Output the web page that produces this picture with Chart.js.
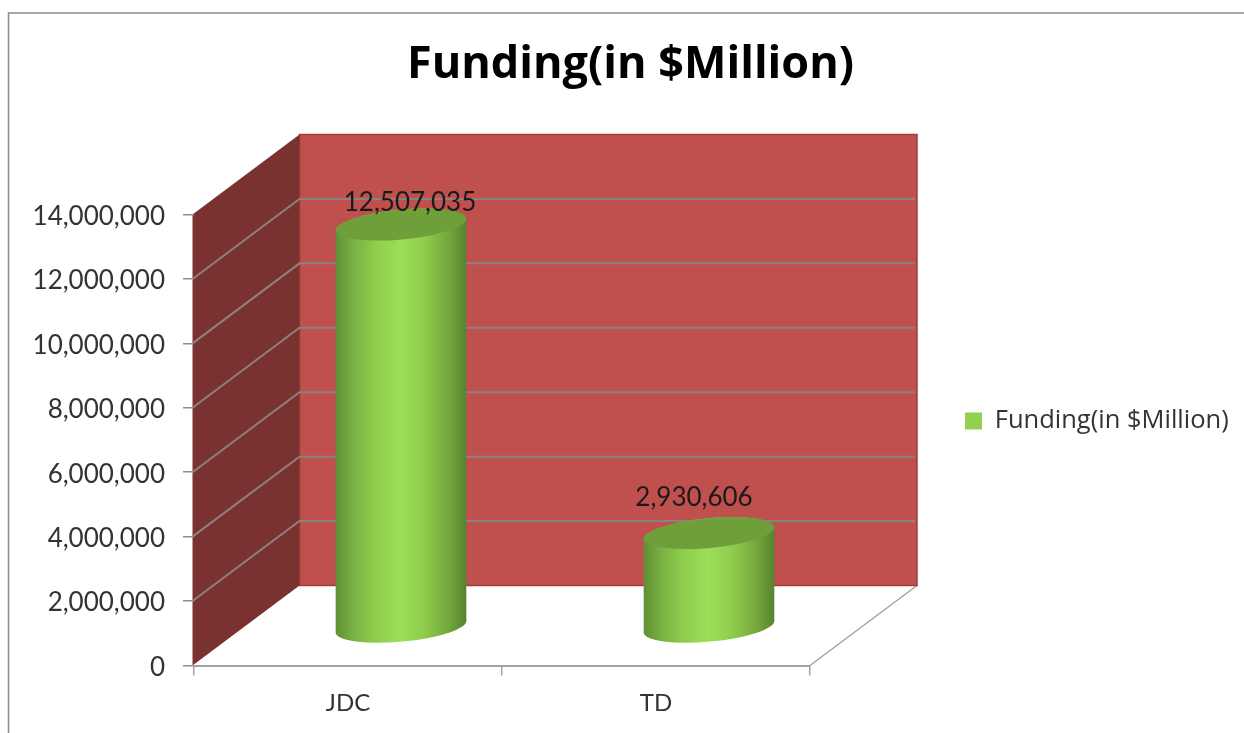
<!DOCTYPE html>
<html>
<head>
<meta charset="utf-8">
<style>
html,body{margin:0;padding:0;background:#fff;overflow:hidden}
canvas{display:block;filter:blur(0.6px)}
</style>
<script src="https://cdn.jsdelivr.net/npm/chart.js@4"></script>
</head>
<body>
<canvas id="c" width="1244" height="733"></canvas>
<script>
const categories = ['JDC', 'TD'];
const seriesName = 'Funding(in $Million)';
const fundingValues = [12507035, 2930606];
const axisMax = 14000000;
const axisStep = 2000000;

const FONT = 'Lato, Carlito, "Open Sans", sans-serif';
const WIDE = '"Open Sans", Lato, sans-serif';
const wallDepth = {dx: 107, dy: -80};
const barDepth = {dx: 53, dy: -38};
const labelNudge = [9, -15];
const labelRaise = [22, 35];
const fmt = v => Number(v).toLocaleString('en-US');

function cylinder(ctx, cx, top, base, rx) {
  const ry = 14.9, rot = -5.3 * Math.PI / 180;
  const ex = rx * Math.cos(rot);
  const g = ctx.createLinearGradient(cx - ex, 0, cx + ex, 0);
  g.addColorStop(0, '#5F9035');
  g.addColorStop(0.14, '#7AB243');
  g.addColorStop(0.32, '#90CF4E');
  g.addColorStop(0.5, '#9CDF58');
  g.addColorStop(0.68, '#8FCC4D');
  g.addColorStop(0.86, '#74A83E');
  g.addColorStop(1, '#58832E');
  ctx.beginPath();
  ctx.ellipse(cx, base, rx, ry, rot, 0, Math.PI, false);
  ctx.ellipse(cx, top, rx, ry, rot, Math.PI, 0, false);
  ctx.closePath();
  ctx.fillStyle = g;
  ctx.fill();
  ctx.beginPath();
  ctx.ellipse(cx, top, rx, ry, rot, 0, Math.PI * 2);
  ctx.fillStyle = '#6F9F3B';
  ctx.fill();
}

const frameAndWalls = {
  id: 'frameAndWalls',
  beforeLayout(chart) {
    const lg = chart.legend;
    if (lg && !lg._patched) {
      const fit = lg.fit;
      lg.fit = function () { fit.call(this); this.width = 434; };
      lg._patched = true;
    }
  },
  afterLayout(chart) {
    const lg = chart.legend;
    lg.left = 955;
    lg.right = 1244;
    lg.top = 321;
    lg.bottom = 521;
    chart.titleBlock.left = 17;
  },
  beforeDraw(chart) {
    const {ctx, chartArea: a, scales} = chart;
    const {dx, dy} = wallDepth;
    const y = scales.y;
    ctx.save();
    ctx.fillStyle = '#fff';
    ctx.fillRect(0, 0, chart.width, chart.height);

    ctx.strokeStyle = '#8C8C8C';
    ctx.lineWidth = 1.5;
    ctx.beginPath();
    ctx.moveTo(8.5, 733);
    ctx.lineTo(8.5, 13);
    ctx.lineTo(1244, 13);
    ctx.stroke();

    const left = a.left - 1.5, bottom = y.getPixelForValue(0), top = y.getPixelForValue(axisMax);

    ctx.strokeStyle = '#A3A3A3';
    ctx.lineWidth = 1.5;
    ctx.beginPath();
    ctx.moveTo(a.right, bottom);
    ctx.lineTo(a.right + dx, bottom + dy);
    ctx.stroke();

    ctx.fillStyle = '#C0504D';
    ctx.fillRect(left + dx, top + dy, a.right - left, bottom - top);
    ctx.strokeStyle = '#9C3F3D';
    ctx.lineWidth = 1.5;
    ctx.strokeRect(left + dx, top + dy, a.right - left, bottom - top);

    ctx.beginPath();
    ctx.moveTo(left, top);
    ctx.lineTo(left + dx, top + dy);
    ctx.lineTo(left + dx, bottom + dy);
    ctx.lineTo(left, bottom);
    ctx.closePath();
    ctx.fillStyle = '#7A3230';
    ctx.fill();

    ctx.strokeStyle = '#8C8080';
    ctx.lineWidth = 2;
    y.ticks.forEach(t => {
      if (t.value === 0 || t.value === axisMax) return;
      const p = y.getPixelForValue(t.value);
      ctx.beginPath();
      ctx.moveTo(left, p);
      ctx.lineTo(left + dx, p + dy);
      ctx.lineTo(a.right + dx - 2, p + dy);
      ctx.stroke();
    });
    ctx.restore();
  },
  beforeDatasetDraw(chart, args) {
    const ctx = chart.ctx;
    const meta = chart.getDatasetMeta(args.index);
    ctx.save();
    meta.data.forEach(b => {
      cylinder(ctx, b.x + barDepth.dx, b.y + barDepth.dy, b.base + barDepth.dy, b.width / 2);
    });
    ctx.restore();
    return false;
  },
  afterDatasetsDraw(chart) {
    const ctx = chart.ctx;
    const meta = chart.getDatasetMeta(0);
    ctx.save();
    ctx.font = '26px ' + FONT;
    ctx.fillStyle = '#1A1A1A';
    ctx.textAlign = 'center';
    ctx.textBaseline = 'middle';
    meta.data.forEach((b, i) => {
      ctx.fillText(fmt(fundingValues[i]), b.x + barDepth.dx + labelNudge[i], b.y + barDepth.dy - labelRaise[i]);
    });
    ctx.restore();
  }
};

new Chart(document.getElementById('c'), {
  type: 'bar',
  data: {
    labels: categories,
    datasets: [{
      label: seriesName,
      data: fundingValues,
      backgroundColor: '#92D050',
      borderWidth: 0,
      categoryPercentage: 1,
      barPercentage: 0.426
    }]
  },
  plugins: [frameAndWalls],
  options: {
    responsive: false,
    animation: false,
    devicePixelRatio: 1,
    layout: {padding: 0, autoPadding: false},
    plugins: {
      tooltip: {enabled: false},
      title: {
        display: true,
        text: seriesName,
        color: '#000',
        font: {family: WIDE, size: 45, weight: 'bold', lineHeight: 1.2},
        padding: {top: 38, bottom: 122.5}
      },
      legend: {
        display: true,
        position: 'right',
        labels: {
          color: '#333',
          font: {family: WIDE, size: 25.5},
          boxWidth: 17,
          boxHeight: 17,
          padding: 10
        }
      }
    },
    scales: {
      x: {
        afterFit(s) { s.height = 67.5; },
        border: {display: true, color: '#A3A3A3', width: 2},
        grid: {display: true, drawOnChartArea: false, drawTicks: true, tickLength: 10, color: '#A3A3A3', lineWidth: 1.5},
        ticks: {color: '#333', font: {family: FONT, size: 24}, padding: 13}
      },
      y: {
        min: 0,
        max: axisMax,
        afterFit(s) { s.width = 194; },
        border: {display: false},
        grid: {display: true, drawOnChartArea: false, drawTicks: true, tickLength: 11, color: '#8C8C8C', lineWidth: 1.5},
        ticks: {
          stepSize: axisStep,
          color: '#333',
          font: {family: FONT, size: 26},
          padding: 18,
          labelOffset: 2,
          callback: v => fmt(v)
        }
      }
    }
  }
});
</script>
</body>
</html>
